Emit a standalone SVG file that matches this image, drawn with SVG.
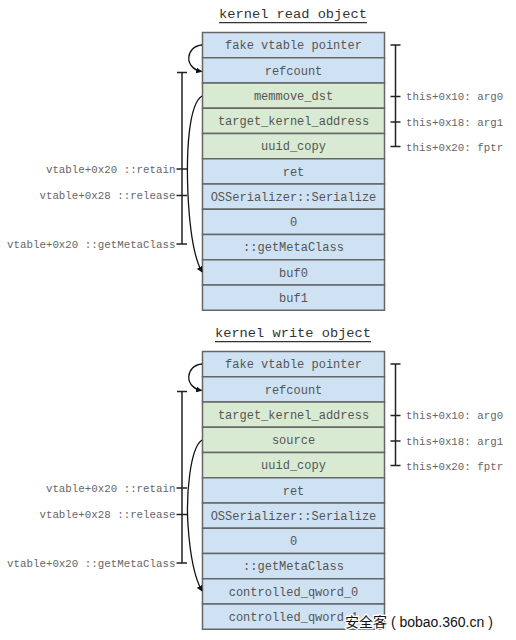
<svg xmlns="http://www.w3.org/2000/svg" width="516" height="640" viewBox="0 0 516 640">
<style>
.bg{fill:#ffffff}
.b{fill:#cfe2f3;stroke:#666666;stroke-width:1.5}
.g{fill:#d9ead3;stroke:#666666;stroke-width:1.5}
.t{font-family:"Liberation Mono","DejaVu Sans Mono",monospace;font-size:12px;fill:#555555;text-anchor:middle}
.title{font-family:"Liberation Mono","DejaVu Sans Mono",monospace;font-size:13.7px;fill:#333333;text-anchor:middle}
.ul{stroke:#333333;stroke-width:1.2}
.rl{font-family:"Liberation Mono","DejaVu Sans Mono",monospace;font-size:10.8px;fill:#666666}
.ll{font-family:"Liberation Mono","DejaVu Sans Mono",monospace;font-size:10.8px;fill:#666666;text-anchor:end}
.br{stroke:#222222;stroke-width:1.5;fill:none}
.cv{stroke:#111111;stroke-width:1.3;fill:none;marker-end:url(#ah)}
.wm{font-family:"Liberation Sans","Noto Sans CJK SC",sans-serif;font-size:14px;fill:#111111;stroke:#ffffff;stroke-width:2.5;paint-order:stroke}
</style>
<defs>
<marker id="ah" viewBox="0 0 10 10" refX="9" refY="5" markerWidth="6" markerHeight="6" orient="auto" markerUnits="userSpaceOnUse">
<path d="M0,0 L10,5 L0,10 z" fill="#111111"/>
</marker>
</defs>
<rect class="bg" x="0" y="0" width="516" height="640"/>

<g id="read-object">
<text class="title" x="293" y="18">kernel read object</text>
<line class="ul" x1="219" y1="22.7" x2="367" y2="22.7"/>
<g id="r0"><rect class="b" x="202.5" y="32.5" width="182" height="25.25"/><text class="t" x="293.5" y="49.3">fake vtable pointer</text></g>
<g id="r1"><rect class="b" x="202.5" y="57.75" width="182" height="25.25"/><text class="t" x="293.5" y="74.5">refcount</text></g>
<g id="r2"><rect class="g" x="202.5" y="83" width="182" height="25.25"/><text class="t" x="293.5" y="99.8">memmove_dst</text></g>
<g id="r3"><rect class="g" x="202.5" y="108.25" width="182" height="25.25"/><text class="t" x="293.5" y="125">target_kernel_address</text></g>
<g id="r4"><rect class="g" x="202.5" y="133.5" width="182" height="25.25"/><text class="t" x="293.5" y="150.3">uuid_copy</text></g>
<g id="r5"><rect class="b" x="202.5" y="158.75" width="182" height="25.25"/><text class="t" x="293.5" y="175.5">ret</text></g>
<g id="r6"><rect class="b" x="202.5" y="184" width="182" height="25.25"/><text class="t" x="293.5" y="200.8">OSSerializer::Serialize</text></g>
<g id="r7"><rect class="b" x="202.5" y="209.25" width="182" height="25.25"/><text class="t" x="293.5" y="226">0</text></g>
<g id="r8"><rect class="b" x="202.5" y="234.5" width="182" height="25.25"/><text class="t" x="293.5" y="251.3">::getMetaClass</text></g>
<g id="r9"><rect class="b" x="202.5" y="259.75" width="182" height="25.25"/><text class="t" x="293.5" y="276.5">buf0</text></g>
<g id="r10"><rect class="b" x="202.5" y="285" width="182" height="25.25"/><text class="t" x="293.5" y="301.8">buf1</text></g>
</g>

<g id="read-annotations">
<path class="br" d="M395.5,45 V146.5 M390.5,45 H400.5 M390.5,96.5 H400.5 M390.5,122 H400.5 M390.5,146.5 H400.5"/>
<text class="rl" x="406" y="100">this+0x10: arg0</text>
<text class="rl" x="406" y="125.5">this+0x18: arg1</text>
<text class="rl" x="406" y="150.5">this+0x20: fptr</text>
<path class="br" d="M182,72.5 V244 M177,72.5 H187 M176.5,169 H187 M176.5,195.5 H187 M176.5,244 H187"/>
<text class="ll" x="175.5" y="172.5">vtable+0x20 ::retain</text>
<text class="ll" x="175.5" y="199">vtable+0x28 ::release</text>
<text class="ll" x="175.5" y="247.5">vtable+0x20 ::getMetaClass</text>
</g>

<g id="write-object">
<text class="title" x="293" y="337">kernel write object</text>
<line class="ul" x1="215" y1="341.7" x2="371" y2="341.7"/>
<g id="w0"><rect class="b" x="202.5" y="351.5" width="182" height="25.25"/><text class="t" x="293.5" y="368.3">fake vtable pointer</text></g>
<g id="w1"><rect class="b" x="202.5" y="376.75" width="182" height="25.25"/><text class="t" x="293.5" y="393.5">refcount</text></g>
<g id="w2"><rect class="g" x="202.5" y="402" width="182" height="25.25"/><text class="t" x="293.5" y="418.8">target_kernel_address</text></g>
<g id="w3"><rect class="g" x="202.5" y="427.25" width="182" height="25.25"/><text class="t" x="293.5" y="444">source</text></g>
<g id="w4"><rect class="g" x="202.5" y="452.5" width="182" height="25.25"/><text class="t" x="293.5" y="469.3">uuid_copy</text></g>
<g id="w5"><rect class="b" x="202.5" y="477.75" width="182" height="25.25"/><text class="t" x="293.5" y="494.5">ret</text></g>
<g id="w6"><rect class="b" x="202.5" y="503" width="182" height="25.25"/><text class="t" x="293.5" y="519.8">OSSerializer::Serialize</text></g>
<g id="w7"><rect class="b" x="202.5" y="528.25" width="182" height="25.25"/><text class="t" x="293.5" y="545">0</text></g>
<g id="w8"><rect class="b" x="202.5" y="553.5" width="182" height="25.25"/><text class="t" x="293.5" y="570.3">::getMetaClass</text></g>
<g id="w9"><rect class="b" x="202.5" y="578.75" width="182" height="25.25"/><text class="t" x="293.5" y="595.5">controlled_qword_0</text></g>
<g id="w10"><rect class="b" x="202.5" y="604" width="182" height="25.25"/><text class="t" x="293.5" y="620.8">controlled_qword_1</text></g>
</g>

<g id="write-annotations">
<path class="br" d="M395.5,364 V465.5 M390.5,364 H400.5 M390.5,415.5 H400.5 M390.5,441 H400.5 M390.5,465.5 H400.5"/>
<text class="rl" x="406" y="419">this+0x10: arg0</text>
<text class="rl" x="406" y="444.5">this+0x18: arg1</text>
<text class="rl" x="406" y="469.5">this+0x20: fptr</text>
<path class="br" d="M182,391.5 V563 M177,391.5 H187 M176.5,488 H187 M176.5,514.5 H187 M176.5,563 H187"/>
<text class="ll" x="175.5" y="491.5">vtable+0x20 ::retain</text>
<text class="ll" x="175.5" y="518">vtable+0x28 ::release</text>
<text class="ll" x="175.5" y="566.5">vtable+0x20 ::getMetaClass</text>
</g>

<g id="connectors">
<path class="cv" d="M202,45 C186,46 183,68 201.5,71.5"/>
<path class="cv" d="M202,96 C189,104 186,150 188,195 C190,235 194,258 202,272"/>
<path class="cv" d="M202,364 C186,365 183,387 201.5,390.5"/>
<path class="cv" d="M202,440 C190,448 186,495 188,525 C190,555 194,577 202,591"/>
</g>

<text class="wm" x="345" y="627">安全客 ( bobao.360.cn )</text>
</svg>
